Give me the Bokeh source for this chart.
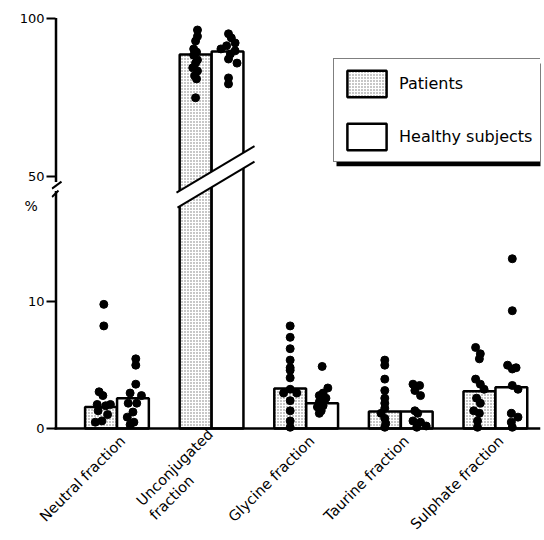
import math
from bokeh.plotting import figure
from bokeh.models import Range1d, FixedTicker, Legend, LegendItem
from bokeh.embed import file_html
from bokeh.resources import INLINE

# ---------------- data ----------------
categories = ["Neutral fraction", "Unconjugated\nfraction", "Glycine fraction",
              "Taurine fraction", "Sulphate fraction"]
patients_mean = [1.7, 88.7, 3.15, 1.35, 2.95]
healthy_mean = [2.4, 89.7, 2.0, 1.35, 3.25]

neutral_patients = [9.8, 8.1, 2.9, 2.6, 1.9, 1.8, 1.9, 1.4, 1.1, 0.6, 0.5]
neutral_healthy = [5.5, 5.0, 3.5, 2.8, 2.6, 2.0, 2.0, 1.3, 0.9, 0.5, 0.3]
unconj_patients = [96.5, 94.5, 93.0, 90.5, 89.5, 88.5, 87.0, 86.0, 84.5, 83.5, 82.0, 81.0, 75.0]
unconj_healthy = [95.3, 94.0, 92.4, 91.5, 90.5, 89.9, 88.9, 87.3, 86.0, 81.3, 79.4]
glycine_patients = [8.1, 7.2, 6.3, 5.4, 4.8, 4.6, 4.0, 3.1, 2.8, 2.8, 2.2, 1.4, 0.6, 0.1]
glycine_healthy = [4.9, 3.2, 2.8, 2.6, 2.4, 2.1, 1.8, 1.7, 1.4, 1.2]
taurine_patients = [5.4, 5.0, 3.9, 3.0, 2.4, 2.0, 1.6, 1.2, 0.8, 0.4, 0.1]
taurine_healthy = [3.5, 3.4, 3.0, 2.6, 1.4, 1.2, 0.6, 0.5, 0.2, 0.1]
sulphate_patients = [6.4, 5.9, 5.5, 3.9, 3.5, 3.1, 2.4, 2.0, 1.4, 1.2, 0.6, 0.1]
sulphate_healthy = [13.4, 9.3, 5.0, 4.8, 4.7, 3.4, 3.1, 1.2, 0.9, 0.5, 0.1]

# horizontal scatter of the dots inside each bar (category units)
neutral_patients_jit = [0.03, 0.03, -0.02, 0.02, -0.04, 0.05, 0.10, -0.03, 0.07, 0.01, -0.06]
neutral_healthy_jit = [0.03, 0.03, 0.03, -0.03, 0.09, -0.05, 0.04, 0.0, -0.06, 0.01, -0.03]
unconj_patients_jit = [0.02, 0.02, 0.0, -0.02, 0.01, -0.02, 0.02, 0.0, -0.03, 0.02, -0.01, 0.01, 0.0]
unconj_healthy_jit = [0.01, 0.04, 0.08, -0.01, -0.07, 0.08, 0.03, 0.01, 0.10, 0.01, 0.01]
glycine_patients_jit = [0.0, 0.0, 0.0, 0.0, 0.0, 0.0, 0.0, 0.0, -0.07, 0.07, 0.0, 0.0, 0.0, 0.0]
glycine_healthy_jit = [0.0, 0.06, 0.01, -0.03, 0.04, -0.03, 0.01, -0.05, -0.01, -0.03]
taurine_patients_jit = [0.0, 0.0, 0.0, 0.0, 0.0, 0.0, 0.0, -0.04, 0.0, 0.01, 0.0]
taurine_healthy_jit = [-0.04, 0.03, -0.02, 0.04, -0.02, 0.01, -0.04, 0.04, 0.10, 0.0]
sulphate_patients_jit = [-0.04, 0.01, 0.0, -0.04, 0.01, 0.05, -0.03, 0.01, -0.06, 0.0, -0.02, -0.02]
sulphate_healthy_jit = [0.01, 0.01, -0.04, 0.05, 0.01, 0.01, 0.07, 0.0, 0.07, 0.0, 0.01]

patients_dots = [neutral_patients, unconj_patients, glycine_patients, taurine_patients, sulphate_patients]
healthy_dots = [neutral_healthy, unconj_healthy, glycine_healthy, taurine_healthy, sulphate_healthy]
patients_jit = [neutral_patients_jit, unconj_patients_jit, glycine_patients_jit, taurine_patients_jit, sulphate_patients_jit]
healthy_jit = [neutral_healthy_jit, unconj_healthy_jit, glycine_healthy_jit, taurine_healthy_jit, sulphate_healthy_jit]

BROKEN = 1  # the category drawn on the upper (50-100 %) scale

# ---------------- layout ----------------
W, H = 544, 540
FL, FR, FT, FB = 51, 540, 14, 436       # frame edges in pixels
XS, XE = -0.692, 4.477                  # x range
YS, YE = -0.55, 32.68                   # lower scale (0 .. ~18 %)
US, UE = -32.12, 101.42                 # upper scale (50 .. 100 %)
D = 0.169                               # half distance between paired bars
BW = 0.336                              # bar width
LABEL_SHIFT = 0.06                      # category labels sit slightly right of pair centre

def px_x(px):
    return XS + (px - FL) / (FR - FL) * (XE - XS)

def px_y(py):
    return YS + (FB - py) / (FB - FT) * (YE - YS)

def upper_to_lower(u):
    return YS + (u - US) / (UE - US) * (YE - YS)

def lower_to_upper(v):
    return US + (v - YS) / (YE - YS) * (UE - US)

FONT = "DejaVu Sans"
NB = "\u00a0"

p = figure(width=W, height=H, x_range=Range1d(XS, XE), y_range=Range1d(YS, YE),
           output_backend="svg", toolbar_location=None,
           min_border_left=FL, min_border_right=W - FR,
           min_border_top=FT, min_border_bottom=H - FB)
p.extra_y_ranges = {"upper": Range1d(US, UE)}
p.outline_line_color = None
p.xgrid.visible = False
p.ygrid.visible = False

# y axis (ticks + labels from the axis, line drawn broken below)
t50 = round(upper_to_lower(50), 6)
t100 = round(upper_to_lower(100), 6)
p.yaxis.ticker = FixedTicker(ticks=[0, 10, t50, t100])
p.yaxis.major_label_overrides = {0: "0", 10: "10", t50: "50", t100: "100"}
p.yaxis.axis_line_color = None
p.yaxis.major_tick_line_width = 2
p.yaxis.major_tick_out = 5
p.yaxis.major_tick_in = 4
p.yaxis.minor_tick_line_color = None
p.yaxis.major_label_standoff = 2
p.yaxis.major_label_text_font = FONT
p.yaxis.major_label_text_font_size = "13px"
p.yaxis.major_label_text_color = "black"
p.yaxis.axis_label = "%\n\n"
p.yaxis.axis_label_orientation = "horizontal"
p.yaxis.axis_label_standoff = -21
p.yaxis.axis_label_text_font = FONT
p.yaxis.axis_label_text_font_size = "14px"
p.yaxis.axis_label_text_font_style = "normal"
p.yaxis.axis_label_text_color = "black"

# x axis: category labels (second line of the two-line label left-aligned via padding)
def fit_label(c):
    if "\n" not in c:
        return c
    first, second = c.split("\n")
    return first + "\n" + second + NB * 10

ticks_x = [round(i + LABEL_SHIFT, 6) for i in range(len(categories))]
p.xaxis.ticker = FixedTicker(ticks=ticks_x)
p.xaxis.major_label_overrides = {t: fit_label(c) for t, c in zip(ticks_x, categories)}
p.xaxis.major_label_orientation = math.pi / 4
p.xaxis.axis_line_color = None
p.xaxis.major_tick_line_color = None
p.xaxis.major_tick_out = 0
p.xaxis.major_tick_in = 0
p.xaxis.minor_tick_line_color = None
p.xaxis.major_label_standoff = 3
p.xaxis.major_label_text_font = FONT
p.xaxis.major_label_text_font_size = "14.5px"
p.xaxis.major_label_text_color = "black"

hatch = dict(fill_color="white", hatch_pattern="dot", hatch_scale=3,
             hatch_weight=0.9, hatch_color="black", hatch_alpha=0.55)
outline = dict(line_color="black", line_width=2.5)

# legend drop shadow (drawn first, under the legend box)
p.quad(left=[px_x(336)], right=[px_x(541)], top=[px_y(63)], bottom=[px_y(166)],
       fill_color="black", line_color=None)

low_idx = [i for i in range(len(categories)) if i != BROKEN]

r_pat = p.vbar(x=[i - D for i in low_idx], top=[patients_mean[i] for i in low_idx],
               bottom=0, width=BW, **hatch, **outline)
r_hea = p.vbar(x=[i + D for i in low_idx], top=[healthy_mean[i] for i in low_idx],
               bottom=0, width=BW, fill_color="white", **outline)
# broken category on the upper scale, starting at the baseline
p.vbar(x=[BROKEN - D], top=[patients_mean[BROKEN]], bottom=lower_to_upper(0), width=BW,
       y_range_name="upper", **hatch, **outline)
p.vbar(x=[BROKEN + D], top=[healthy_mean[BROKEN]], bottom=lower_to_upper(0), width=BW,
       y_range_name="upper", fill_color="white", **outline)

# break band across the broken bars
p.patch(x=[px_x(176), px_x(254), px_x(254), px_x(177)],
        y=[px_y(192.5), px_y(146), px_y(161.5), px_y(207.5)],
        fill_color="white", line_color=None)
p.segment(x0=[px_x(176), px_x(177)], y0=[px_y(192.5), px_y(207.5)],
          x1=[px_x(254), px_x(254)], y1=[px_y(146), px_y(161.5)],
          line_color="black", line_width=2)

# dots
for i in range(len(categories)):
    xs_p = [i - D + j for j in patients_jit[i]]
    xs_h = [i + D + j for j in healthy_jit[i]]
    if i == BROKEN:
        p.scatter(xs_p, patients_dots[i], size=8, color="black", y_range_name="upper")
        p.scatter(xs_h, healthy_dots[i], size=8, color="black", y_range_name="upper")
    else:
        p.scatter(xs_p, patients_dots[i], size=8, color="black")
        p.scatter(xs_h, healthy_dots[i], size=8, color="black")

# baseline and broken y axis line
AX = px_x(55.5)
p.segment(x0=[px_x(54)], y0=[0], x1=[XE], y1=[0], line_color="black", line_width=2.5)
p.segment(x0=[AX, AX], y0=[px_y(430), px_y(182)], x1=[AX, AX], y1=[px_y(191), px_y(17.5)],
          line_color="black", line_width=2.5)
p.segment(x0=[px_x(51.5), px_x(51.5)], y0=[px_y(188.5), px_y(197)],
          x1=[px_x(61), px_x(58)], y1=[px_y(181.5), px_y(190.5)],
          line_color="black", line_width=2)

legend = Legend(items=[LegendItem(label="Patients", renderers=[r_pat]),
                       LegendItem(label="Healthy subjects", renderers=[r_hea])],
                location=(333 - FL, FB - 163), orientation="vertical",
                glyph_width=49, glyph_height=33, spacing=20, padding=8, margin=0,
                label_standoff=8, label_text_font=FONT, label_text_font_size="16px",
                label_text_color="black", border_line_color="black", border_line_width=1.5,
                background_fill_color="white", background_fill_alpha=1.0)
p.add_layout(legend)

open("out.html", "w").write(file_html(p, INLINE))
